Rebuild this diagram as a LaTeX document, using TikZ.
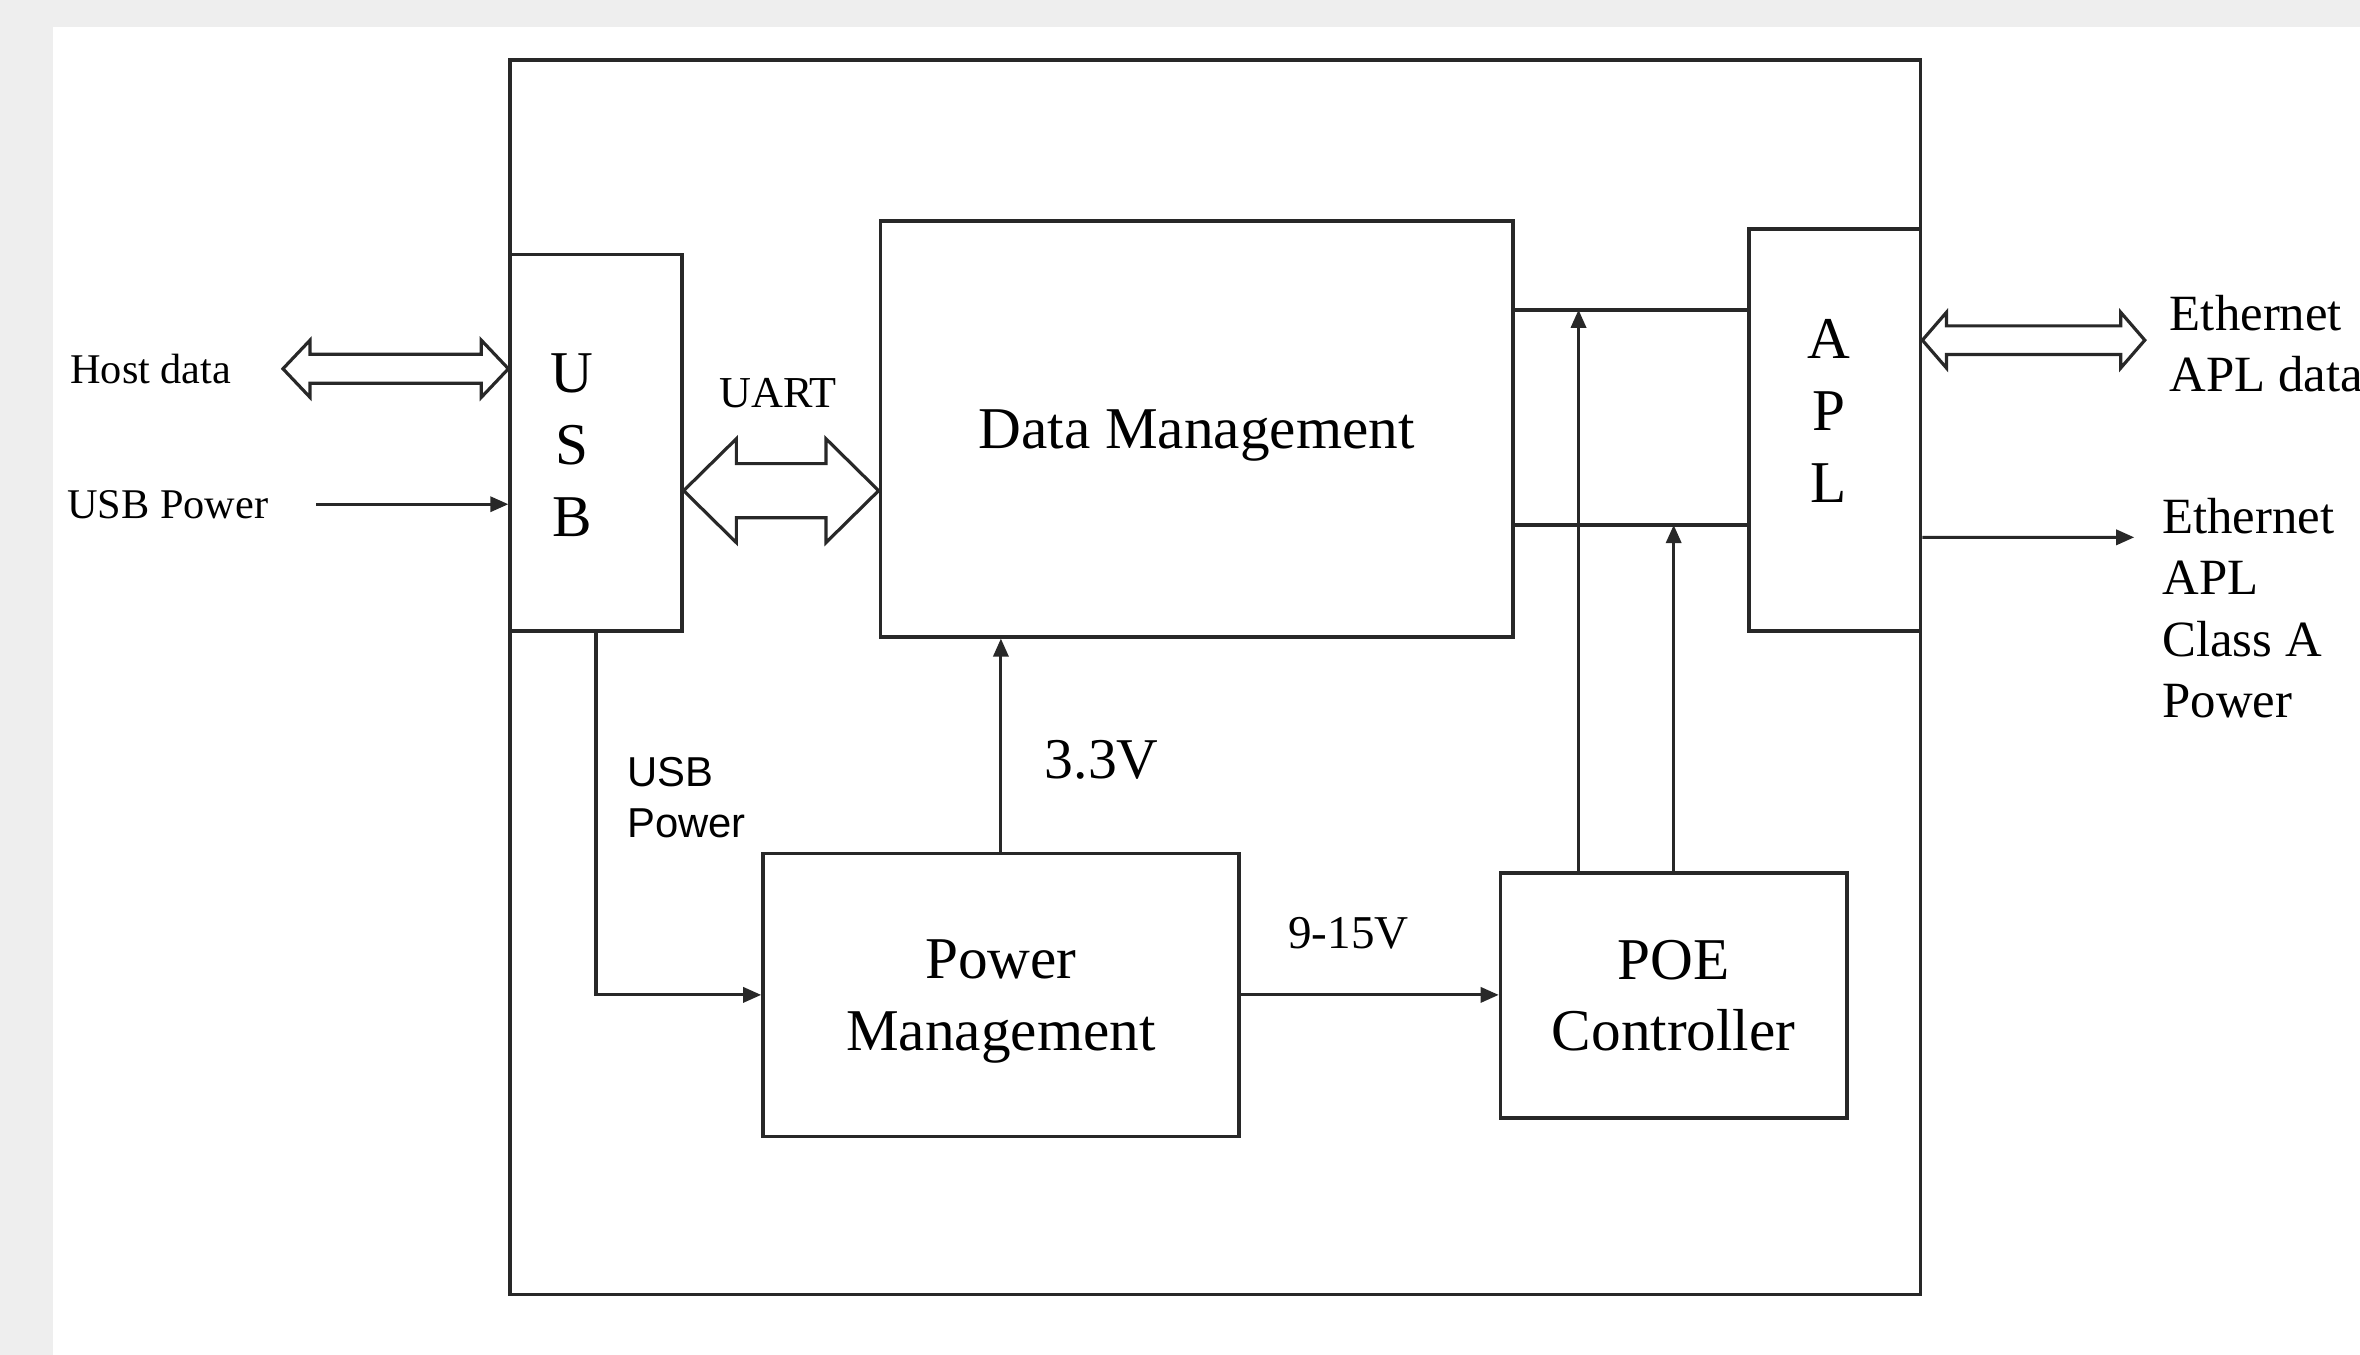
\documentclass[tikz,border=0pt]{standalone}
\usepackage{fontspec}
\setmainfont{Liberation Serif}
\newfontfamily\labelsans{Liberation Sans}
\usetikzlibrary{calc,arrows.meta}
\definecolor{bggray}{RGB}{238,238,238}
\definecolor{inkline}{RGB}{40,40,40}
\newcommand{\fatarrow}[5]{%
  \draw[line width=0.6pt, draw=inkline, fill=white] (#1) -- ++(#5,#4) -- ++(0,{#3-#4}) -- ($(#2)+(-#5,#3)$) -- ++(0,{#4-#3}) -- (#2) -- ++(-#5,-#4) -- ++(0,{#4-#3}) -- ($(#1)+(#5,-#3)$) -- ++(0,{#3-#4}) -- cycle;}
\tikzset{
  box/.style={draw=inkline, line width=0.7pt, inner sep=0pt, align=center, font=\fontsize{11.2}{13.6}\selectfont},
  conn/.style={draw=inkline, line width=0.6pt, -{Triangle[length=1.2mm,width=1mm]}},
  plain/.style={draw=inkline, line width=0.7pt},
  bigtxt/.style={font=\fontsize{11.2}{13.6}\selectfont, align=center},
  smalltxt/.style={font=\fontsize{8}{9.6}\selectfont, align=left, inner xsep=0pt},
  sidetxt/.style={font=\fontsize{9.6}{11.6}\selectfont, align=left, inner xsep=0pt},
}
\begin{document}
\begin{tikzpicture}
        \fill[bggray] (0,0) rectangle (15.68,-9.00);
        \fill[white] (0.35,-0.18) rectangle (15.68,-9.00);
        \useasboundingbox (0,0) rectangle (15.68,-9.00);
        \node[box, minimum width=9.37cm, minimum height=8.20cm] (board) at (8.075,-4.50) {};
        \node[box, minimum width=1.14cm, minimum height=2.50cm] (usb) at (3.96,-2.94) {};
        \node[bigtxt] (usbtext) at (3.80,-2.96) {U\\S\\B};
        \node[box, minimum width=4.20cm, minimum height=2.76cm, text depth=0pt] (dm) at (7.95,-2.85) {Data Management};
        \node[box, minimum width=1.14cm, minimum height=2.67cm] (apl) at (12.19,-2.855) {};
        \node[bigtxt] (apltext) at (12.15,-2.73) {A\\P\\L};
        \node[box, minimum width=3.16cm, minimum height=1.88cm, text depth=0pt] (pm) at (6.65,-6.61) {Power\\Management};
        \node[box, minimum width=2.30cm, minimum height=1.63cm] (poe) at (11.12,-6.615) {POE\\Controller};

        \node[smalltxt, anchor=west] (hostlbl) at (0.46,-2.45) {Host data};
        \node[smalltxt, anchor=west] (pwrlbl) at (0.44,-3.35) {USB Power};
        \node[font=\fontsize{8.35}{10}\selectfont] (uartlbl) at (5.17,-2.61) {UART};
        \node[sidetxt, anchor=west] (ethdlbl) at (14.41,-2.285) {Ethernet\\APL data};
        \node[sidetxt, anchor=west] (ethplbl) at (14.36,-4.04) {Ethernet\\APL\\Class A\\Power};
        \node[font=\fontsize{10.9}{13}\selectfont] (v33lbl) at (7.32,-5.05) {3.3V};
        \node[font=\fontsize{8.9}{10.7}\selectfont] (v915lbl) at (8.96,-6.20) {9-15V};
        \node[font=\fontsize{7.9}{9.7}\labelsans, align=left, anchor=west, inner xsep=0pt] (usbplbl) at (4.16,-5.30) {USB\\Power};

        \coordinate (hostend) at (1.88,-2.45);
        \coordinate (usbhost) at (usb.west |- hostend);
        \fatarrow{hostend}{usbhost}{0.096}{0.19}{0.18}
        \coordinate (uartl) at ([yshift=-0.32cm]usb.east);
        \coordinate (uartr) at (uartl -| dm.west);
        \fatarrow{uartl}{uartr}{0.18}{0.345}{0.35}
        \coordinate (apld) at ([yshift=0.595cm]apl.east);
        \coordinate (ethd) at (14.25,-2.26);
        \fatarrow{apld}{ethd}{0.095}{0.185}{0.16}

        \coordinate (pwrin) at (2.10,-3.35);
        \draw[conn] (pwrin) -- (pwrin -| usb.west);
        \coordinate (aplp) at ([yshift=-0.715cm]apl.east);
        \coordinate (ethp) at (14.18,-3.57);
        \draw[conn] (aplp) -- (ethp);

        \coordinate (d1) at ([yshift=-0.60cm]dm.north east);
        \coordinate (d2) at ([yshift=-2.03cm]dm.north east);
        \draw[plain] (d1) -- (d1 -| apl.west);
        \draw[plain] (d2) -- (d2 -| apl.west);
        \coordinate (p1) at ([xshift=0.53cm]poe.north west);
        \draw[conn] (p1) -- (p1 |- d1);
        \draw[conn] (poe.north) -- (poe.north |- d2);

        \draw[conn] (pm.north) -- (pm.north |- dm.south);
        \draw[conn] (usb.south) |- (pm.west);
        \draw[conn] (pm.east) -- (pm.east -| poe.west);
\end{tikzpicture}
\end{document}
